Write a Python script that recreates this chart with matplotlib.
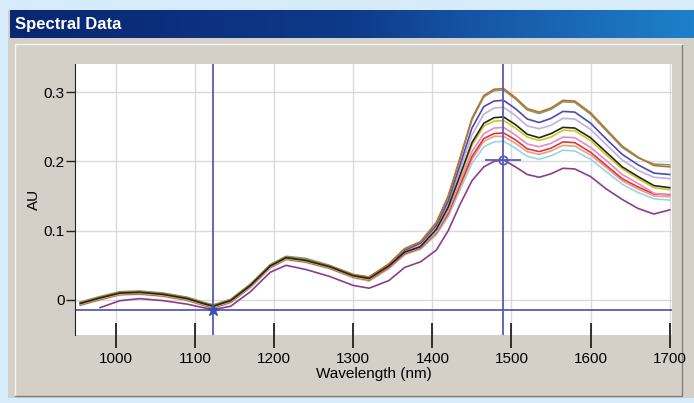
import matplotlib
matplotlib.use("Agg")
import matplotlib.pyplot as plt
import numpy as np
from matplotlib.patches import Rectangle
from matplotlib.colors import LinearSegmentedColormap

plt.rcParams["font.family"] = ["Liberation Sans", "DejaVu Sans"]

# wavelength grid (nm)
wavelength = [955, 980, 1005, 1030, 1060, 1090, 1110, 1123, 1145, 1170,
              1195, 1215, 1240, 1270, 1300, 1320, 1345, 1365, 1385, 1405,
              1420, 1435, 1450, 1465, 1478, 1490, 1505, 1520, 1535, 1550,
              1565, 1580, 1600, 1620, 1640, 1660, 1680, 1700]

# spectra (AU)
orange = [-0.004, 0.004, 0.011, 0.012, 0.009, 0.003, -0.004, -0.008, 0.000, 0.022,
          0.050, 0.062, 0.058, 0.049, 0.036, 0.033, 0.052, 0.074, 0.084, 0.112,
          0.150, 0.205, 0.262, 0.295, 0.304, 0.305, 0.292, 0.276, 0.271, 0.277,
          0.288, 0.287, 0.270, 0.246, 0.222, 0.206, 0.194, 0.192]
green = [-0.003, 0.005, 0.012, 0.013, 0.010, 0.004, -0.003, -0.007, 0.001, 0.023,
         0.051, 0.063, 0.060, 0.050, 0.037, 0.033, 0.052, 0.074, 0.084, 0.111,
         0.149, 0.204, 0.260, 0.293, 0.302, 0.303, 0.290, 0.274, 0.269, 0.275,
         0.286, 0.285, 0.268, 0.244, 0.220, 0.205, 0.196, 0.195]
blue = [-0.004, 0.004, 0.011, 0.012, 0.009, 0.003, -0.004, -0.008, 0.000, 0.022,
        0.050, 0.062, 0.058, 0.049, 0.036, 0.033, 0.051, 0.072, 0.082, 0.108,
        0.143, 0.195, 0.248, 0.279, 0.287, 0.288, 0.276, 0.261, 0.256, 0.262,
        0.272, 0.271, 0.255, 0.232, 0.210, 0.195, 0.183, 0.181]
lavender = [-0.005, 0.003, 0.010, 0.011, 0.008, 0.002, -0.005, -0.009, -0.001, 0.021,
            0.049, 0.061, 0.057, 0.048, 0.035, 0.031, 0.050, 0.071, 0.080, 0.105,
            0.139, 0.188, 0.238, 0.268, 0.277, 0.278, 0.266, 0.251, 0.247, 0.252,
            0.262, 0.261, 0.246, 0.224, 0.202, 0.187, 0.177, 0.175]
dark = [-0.005, 0.003, 0.010, 0.011, 0.008, 0.002, -0.005, -0.009, -0.001, 0.021,
        0.049, 0.061, 0.057, 0.048, 0.035, 0.031, 0.049, 0.069, 0.077, 0.102,
        0.134, 0.180, 0.227, 0.255, 0.263, 0.264, 0.253, 0.239, 0.234, 0.240,
        0.249, 0.248, 0.234, 0.213, 0.192, 0.178, 0.165, 0.162]
yellow = [-0.006, 0.002, 0.009, 0.010, 0.007, 0.001, -0.006, -0.010, -0.002, 0.020,
          0.048, 0.060, 0.056, 0.047, 0.034, 0.030, 0.049, 0.069, 0.077, 0.101,
          0.132, 0.177, 0.223, 0.251, 0.258, 0.259, 0.248, 0.235, 0.230, 0.235,
          0.245, 0.244, 0.230, 0.209, 0.189, 0.175, 0.162, 0.159]
pink = [-0.006, 0.002, 0.009, 0.010, 0.007, 0.001, -0.006, -0.010, -0.002, 0.020,
        0.048, 0.060, 0.056, 0.047, 0.034, 0.030, 0.048, 0.068, 0.076, 0.098,
        0.128, 0.171, 0.214, 0.240, 0.248, 0.249, 0.238, 0.225, 0.221, 0.226,
        0.235, 0.234, 0.220, 0.201, 0.181, 0.168, 0.154, 0.151]
red = [-0.007, 0.001, 0.008, 0.009, 0.006, 0.000, -0.007, -0.011, -0.003, 0.019,
       0.047, 0.059, 0.055, 0.046, 0.033, 0.029, 0.047, 0.067, 0.075, 0.097,
       0.125, 0.166, 0.207, 0.233, 0.240, 0.241, 0.231, 0.218, 0.214, 0.219,
       0.228, 0.227, 0.213, 0.194, 0.175, 0.163, 0.153, 0.152]
salmon = [-0.007, 0.001, 0.008, 0.009, 0.006, 0.000, -0.007, -0.011, -0.003, 0.019,
          0.047, 0.059, 0.055, 0.046, 0.033, 0.028, 0.046, 0.066, 0.074, 0.096,
          0.123, 0.163, 0.203, 0.229, 0.236, 0.236, 0.226, 0.214, 0.210, 0.215,
          0.223, 0.222, 0.209, 0.191, 0.172, 0.160, 0.150, 0.149]
cyan = [-0.008, 0.000, 0.007, 0.008, 0.005, -0.001, -0.008, -0.012, -0.004, 0.018,
        0.046, 0.058, 0.054, 0.045, 0.032, 0.027, 0.045, 0.065, 0.073, 0.094,
        0.120, 0.159, 0.197, 0.221, 0.228, 0.229, 0.219, 0.207, 0.203, 0.208,
        0.216, 0.215, 0.203, 0.185, 0.167, 0.155, 0.146, 0.144]
purple = [np.nan, -0.011, -0.001, 0.002, -0.001, -0.006, -0.011, -0.014, -0.009, 0.012,
          0.040, 0.050, 0.044, 0.034, 0.021, 0.017, 0.028, 0.047, 0.055, 0.072,
          0.100, 0.138, 0.172, 0.192, 0.200, 0.202, 0.192, 0.181, 0.177, 0.182,
          0.190, 0.189, 0.178, 0.160, 0.145, 0.132, 0.124, 0.130]

series = [
    (cyan, "#96d6e6"), (salmon, "#f29a88"), (red, "#d83a34"), (pink, "#e48ac8"),
    (yellow, "#d6c41c"), (lavender, "#c4aedc"), (blue, "#4a4ab4"),
    (green, "#7a9e78"), (orange, "#c0702c"), (dark, "#1e2a1c"), (purple, "#8c3c8c"),
]

# cursor positions
cursor_x = [1123, 1489]
cursor_y = [-0.015, 0.202]

xticks = [1000, 1100, 1200, 1300, 1400, 1500, 1600, 1700]
yticks = [0, 0.1, 0.2, 0.3]
ytick_labels = ["0", "0.1", "0.2", "0.3"]

W, H = 694, 403
fig = plt.figure(figsize=(W / 100, H / 100), dpi=100)
fig.patch.set_facecolor("#d6ecfa")

# window chrome
bg = fig.add_axes([0, 0, 1, 1])
bg.axis("off")
bg.add_patch(Rectangle((8, 10), 686, 388, facecolor="#d4d0c8", edgecolor="none"))
bar_cmap = LinearSegmentedColormap.from_list(
    "bar", [(0, "#0a2670"), (0.5, "#0e3a8a"), (0.7, "#1758a8"), (1, "#1e80c8")])
bg.imshow(np.linspace(0, 1, 256)[None, :], cmap=bar_cmap, aspect="auto",
          extent=(10, W, 38, 10), zorder=3)
bg.text(15, 24, "Spectral Data", color="white", fontsize=12, fontweight="bold",
        ha="left", va="center", zorder=4)
bg.plot([15, 15, 682], [395, 44, 44], color="#f4f4f4", lw=1)
bg.plot([15, 682, 682], [396, 396, 45], color="#808080", lw=1)
bg.set_xlim(0, W)
bg.set_ylim(H, 0)

ax = fig.add_axes([75 / W, (H - 335) / H, 597 / W, 271 / H])
ax.set_facecolor("white")
for vals, col in series:
    ax.plot(wavelength, vals, color=col, lw=1.2)

ax.axvline(cursor_x[0], color="#5a5ab4", lw=1.3)
ax.axvline(cursor_x[1], color="#5a5ab4", lw=1.3)
ax.axhline(cursor_y[0], color="#5a5ab4", lw=1.3)
ax.plot(cursor_x[0], cursor_y[0], marker="*", ms=9, color="#3c50b0")
ax.plot(cursor_x[1], cursor_y[1], marker="_", ms=26, mew=1.3, color="#5a5ab4")
ax.plot(cursor_x[1], cursor_y[1], marker="o", ms=6, mfc="none", mew=1.3, color="#5a5ab4")

ax.set_xlim(948.2, 1702.9)
ax.set_ylim(-0.0505, 0.3404)
ax.set_xticks(xticks)
ax.set_yticks(yticks)
ax.set_yticklabels(ytick_labels)
ax.grid(color="#dadada", lw=1)
ax.set_axisbelow(True)
for s in ["top", "right", "bottom"]:
    ax.spines[s].set_visible(False)
ax.spines["left"].set_color("#222222")
ax.tick_params(axis="x", direction="inout", length=18, width=1.3, color="#222222",
               pad=3, labelsize=11)
ax.tick_params(axis="y", direction="out", length=6.5, width=1, color="#222222",
               pad=1, labelsize=11)
ax.set_xlabel("Wavelength (nm)", fontsize=11, labelpad=1)
ax.set_ylabel("AU", fontsize=11, labelpad=2)

fig.savefig("out.png", dpi=100, facecolor=fig.get_facecolor())
